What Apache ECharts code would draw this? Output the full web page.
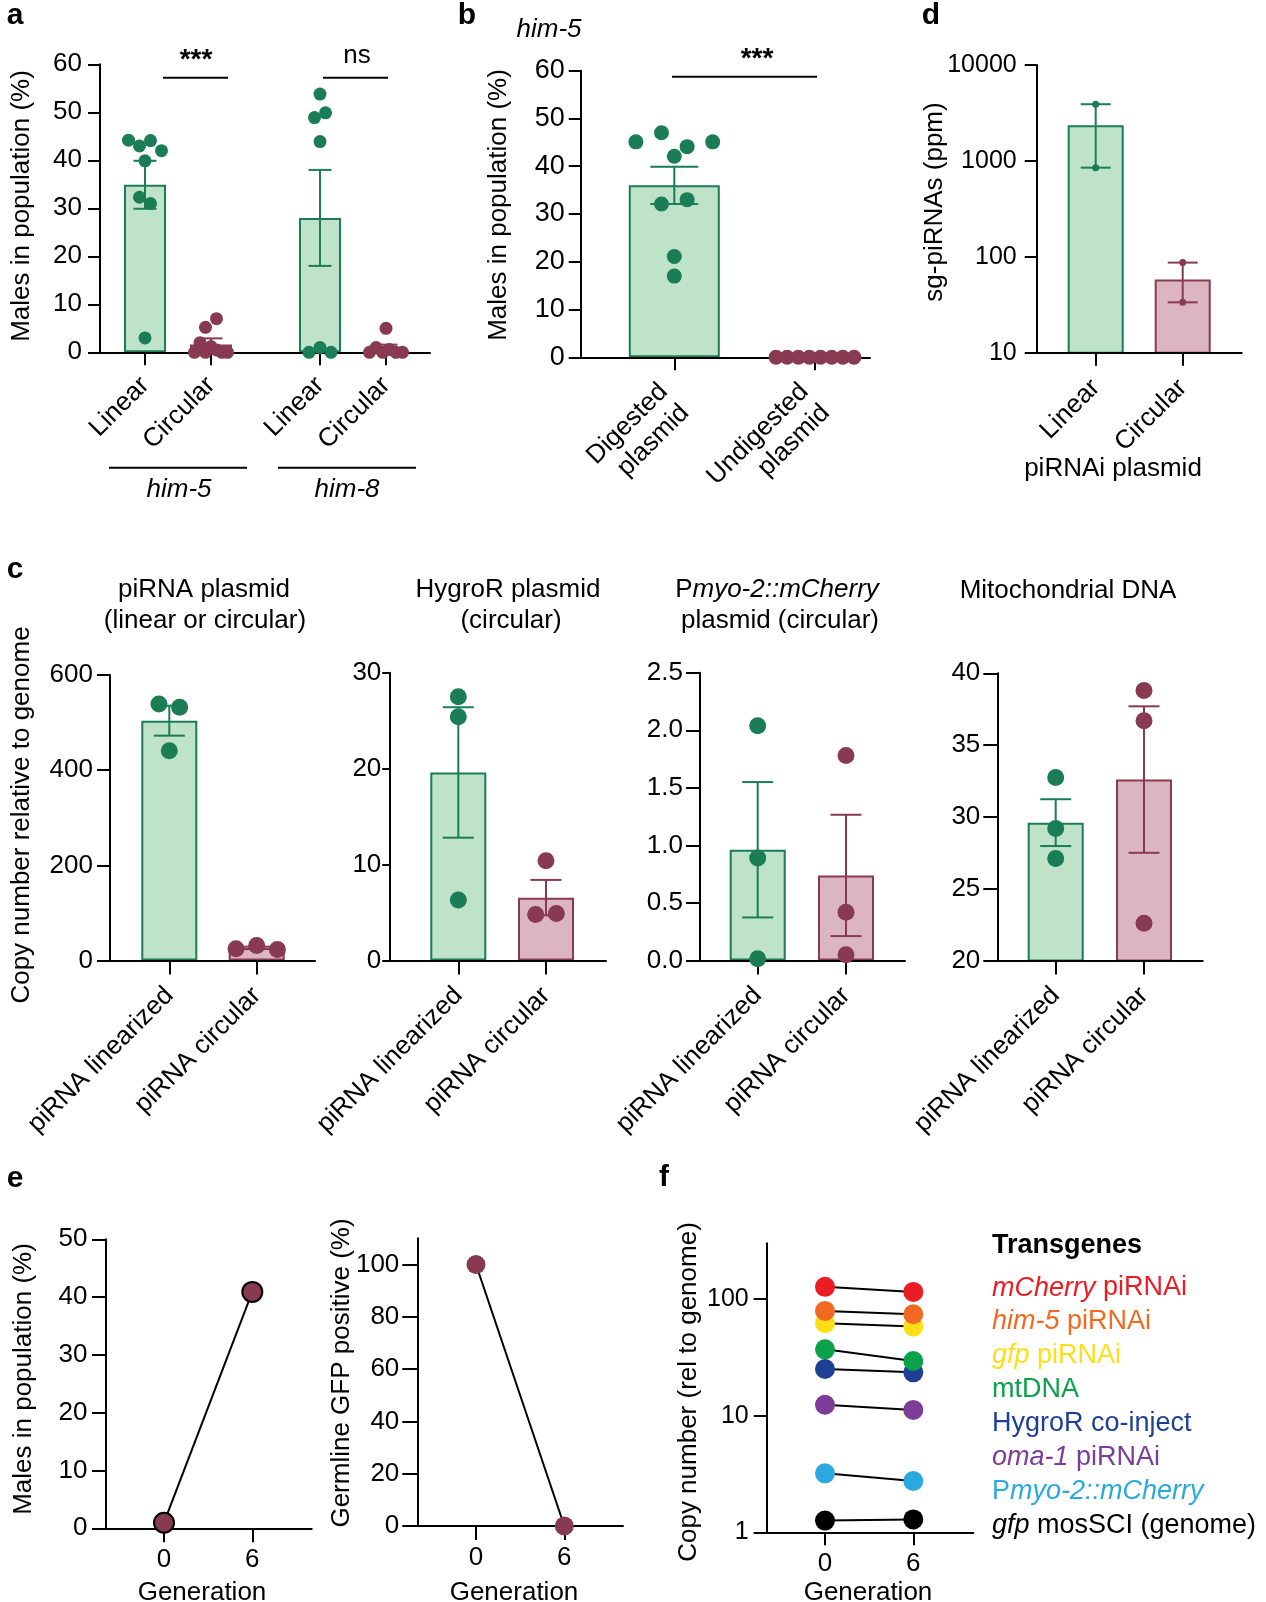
<!DOCTYPE html>
<html>
<head>
<meta charset="utf-8">
<script src="https://cdn.jsdelivr.net/npm/echarts@6/dist/echarts.min.js"></script>
<style>
  html, body { margin: 0; padding: 0; background: #fff; }
  #fig { width: 1266px; height: 1602px; }
</style>
</head>
<body>
<div id="fig"></div>
<script>
// ---------- data ----------
// a: males in population (%), him-5 / him-8, linear vs circular plasmid (points listed left to right)
const aCats = ['Linear', 'Circular'];
const aGenes = ['him-5', 'him-8'];
const aHim5Linear = [44.2, 43.0, 44.1, 42.0, 39.9, 32.3, 31.0, 3.0];
const aHim5Circular = [5.2, 7.0, 0, 2.0, 0, 1.2, 0.5, 0, 0];
const aHim8Linear = [53.8, 48.9, 49.9, 43.9, 0, 1.0, 0];
const aHim8Circular = [5.0, 0, 1.0, 0, 0.6, 0, 0];
const aHim5Mean = [34.9, 1.6];
const aHim5Sem = [5.0, 1.3];
const aHim8Mean = [28.0, 0.9];
const aHim8Sem = [10.0, 0.7];

// b: him-5, digested vs undigested plasmid
const bCats = ['Digested\nplasmid', 'Undigested\nplasmid'];
const bDigested = [45.1, 47.0, 44.1, 45.1, 42.1, 32.1, 33.0, 21.1, 17.0];
const bUndigested = [0, 0, 0, 0, 0, 0, 0, 0];
const bMean = [36.0, 0];
const bSem = [3.9, 0];

// c: copy number relative to genome
const cCats = ['piRNA linearized', 'piRNA circular'];
const cPiLinear = [539, 532, 441];
const cPiCircular = [24.5, 31.5, 23];
const cPiMean = [504, 26.5];
const cPiSem = [31.5, 2.5];
const cHygLinear = [27.5, 25.4, 6.3];
const cHygCircular = [4.8, 10.4, 4.9];
const cHygMean = [19.6, 6.55];
const cHygSem = [6.8, 1.85];
const cMyoLinear = [2.04, 0.89, 0.015];
const cMyoCircular = [1.78, 0.42, 0.05];
const cMyoMean = [0.962, 0.739];
const cMyoSem = [0.588, 0.527];
const cMitoLinear = [32.75, 29.2, 27.1];
const cMitoCircular = [38.8, 36.7, 22.6];
const cMitoMean = [29.6, 32.6];
const cMitoSem = [1.63, 5.1];

// d: sg-piRNAs (ppm), mean with range
const dCats = ['Linear', 'Circular'];
const dLinear = [3900, 850];
const dCircular = [87, 33.5];
const dMean = [2350, 58];
const dLow = [850, 33.5];
const dHigh = [3900, 87];

// e: generations
const eGens = ['0', '6'];
const eMales = [0.97, 40.9];
const eGfp = [100, 0];

// f: copy number of transgenes over generations
const fGens = ['0', '6'];
const fMCherry = [127, 115];
const fHim5 = [79, 74];
const fGfp = [62, 58];
const fMt = [37, 29.4];
const fHygro = [25.1, 23.5];
const fOma1 = [12.4, 11.2];
const fMyo2 = [3.2, 2.75];
const fMos = [1.26, 1.29];

// ---------- styling ----------
const FONT = '"Liberation Sans", Arial, Helvetica, sans-serif';
const EDGES = ['#1a7d55', '#873a51'];
const FILLS = ['#bfe3c8', '#dbb6c0'];
const F_COLORS = ['#ed1c24', '#f26a21', '#ffdd17', '#0ca14b', '#1d3f96', '#7d3c98', '#29a9e0', '#000000'];

const option = {
  animation: false,
  backgroundColor: '#fff',
  grid: [], xAxis: [], yAxis: [], series: [], graphic: []
};

// axis frame: y axis with ticks + full-width x axis line
function addFrame(p) {
  const gi = option.grid.length;
  option.grid.push({left: p.x0, top: p.yTop, width: p.x1 - p.x0, height: p.yBot - p.yTop,
    containLabel: false, outerBoundsMode: 'none'});
  option.xAxis.push({gridIndex: gi, type: 'category', data: [''], position: 'bottom', z: 10,
    axisLine: {onZero: false, lineStyle: {color: '#000', width: 2}},
    axisTick: {show: false}, axisLabel: {show: false}, splitLine: {show: false}});
  const y = {gridIndex: gi, type: p.type || 'value', min: p.min, max: p.max, position: 'left', z: 10,
    axisLine: {show: true, onZero: false, lineStyle: {color: '#000', width: 2}},
    axisTick: {show: true, length: p.tickLen || 12, lineStyle: {color: '#000', width: 2}},
    axisLabel: {color: '#000', fontSize: p.fs, fontFamily: FONT, margin: p.margin,
      formatter: p.fmt || (v => String(Math.round(v * 1000) / 1000))},
    splitLine: {show: false}, minorTick: {show: false}};
  if (p.interval) y.interval = p.interval;
  if (p.ticks) { y.axisLabel.customValues = p.ticks; y.axisTick.customValues = p.ticks; }
  if (p.type === 'log') y.logBase = 10;
  option.yAxis.push(y);
}

// data grid: category bands centred on the tick positions
function addData(p) {
  const band = p.c1 - p.c0;
  const gi = option.grid.length;
  option.grid.push({left: p.c0 - band / 2, top: p.yTop, width: band * p.cats.length, height: p.yBot - p.yTop,
    containLabel: false, outerBoundsMode: 'none'});
  option.xAxis.push({gridIndex: gi, type: 'category', data: p.cats, position: 'bottom', z: 10,
    axisLine: {show: false, onZero: false},
    axisTick: {show: true, alignWithLabel: true, interval: 0, length: p.tickLen || 12, lineStyle: {color: '#000', width: 2}},
    axisLabel: {color: '#000', fontSize: p.fs, fontFamily: FONT, margin: p.margin, rotate: p.rotate || 0,
      interval: 0, lineHeight: p.lineHeight || p.fs},
    splitLine: {show: false}});
  const y = {gridIndex: gi, type: p.type || 'value', min: p.min, max: p.max, show: false};
  if (p.type === 'log') y.logBase = 10;
  option.yAxis.push(y);
  return gi;
}

function addBars(gi, means, barW) {
  option.series.push({type: 'bar', xAxisIndex: gi, yAxisIndex: gi, barWidth: barW, z: 2, silent: true,
    data: means.map((m, i) => ({value: m, itemStyle: {color: FILLS[i], borderColor: EDGES[i], borderWidth: 2}}))});
}

function addErr(gi, lo, hi, capW) {
  const data = [];
  lo.forEach((l, i) => { if (hi[i] > l) data.push([i, l, hi[i]]); });
  option.series.push({type: 'custom', xAxisIndex: gi, yAxisIndex: gi, z: 3, silent: true, clip: false, data,
    renderItem(params, api) {
      const i = api.value(0);
      const a = api.coord([i, api.value(2)]);
      const b = api.coord([i, api.value(1)]);
      const st = {stroke: EDGES[i], lineWidth: 2};
      const x = a[0], h = capW / 2;
      return {type: 'group', children: [
        {type: 'line', shape: {x1: x, y1: a[1], x2: x, y2: b[1]}, style: st},
        {type: 'line', shape: {x1: x - h, y1: a[1], x2: x + h, y2: a[1]}, style: st},
        {type: 'line', shape: {x1: x - h, y1: b[1], x2: x + h, y2: b[1]}, style: st}
      ]};
    }});
}
const minus = (m, s) => m.map((v, i) => v - s[i]);
const plus = (m, s) => m.map((v, i) => v + s[i]);

// GraphPad-like scatter: dots in the same row are spread sideways
function spread(values, pxPerUnit, dot, maxStep, maxWidth) {
  const idx = values.map((v, i) => i).sort((p, q) => values[q] - values[p]);
  const offs = values.map(() => 0);
  let k = 0;
  while (k < idx.length) {
    const top = values[idx[k]];
    const bin = [];
    while (k < idx.length && (top - values[idx[k]]) * pxPerUnit < dot) { bin.push(idx[k]); k++; }
    bin.sort((p, q) => p - q);
    const step = bin.length > 1 ? Math.min(maxStep, maxWidth / (bin.length - 1)) : 0;
    bin.forEach((i, j) => { offs[i] = (j - (bin.length - 1) / 2) * step; });
  }
  return offs;
}

function addDots(gi, cat, values, size, sp) {
  const offs = sp ? spread(values, sp.px, size, sp.step, sp.width) : values.map(() => 0);
  option.series.push({type: 'scatter', xAxisIndex: gi, yAxisIndex: gi, z: 20, silent: true, clip: false,
    symbol: 'circle', symbolSize: size, itemStyle: {color: EDGES[cat], opacity: 1},
    data: values.map((v, k) => ({value: [cat, v], symbolOffset: [offs[k], 0]}))});
}

function addLine(gi, values, color, size, border) {
  option.series.push({type: 'line', xAxisIndex: gi, yAxisIndex: gi, z: 20, silent: true, clip: false,
    data: values, symbol: 'circle', symbolSize: size, showSymbol: true,
    lineStyle: {color: '#000', width: 2},
    itemStyle: {color: color, borderColor: '#000', borderWidth: border, opacity: 1}});
}

function txt(x, y, text, o) {
  o = o || {};
  const el = {type: 'text', x, y, rotation: o.rot || 0, silent: true, z: 50,
    style: {text, fill: o.color || '#000',
      font: (o.italic ? 'italic ' : '') + (o.bold ? 'bold ' : '') + (o.size || 26) + 'px ' + FONT,
      align: o.align || 'center', verticalAlign: 'middle'}};
  if (o.rich) el.style.rich = o.rich;
  option.graphic.push(el);
}
function hline(x1, x2, y) {
  option.graphic.push({type: 'line', silent: true, z: 50, shape: {x1, y1: y, x2, y2: y},
    style: {stroke: '#000', lineWidth: 2}});
}
const rs = (size, italic, color) => ({fontSize: size, fontFamily: FONT, fontStyle: italic ? 'italic' : 'normal', fill: color});
const UP = Math.PI / 2;

// ---------- panel a ----------
addFrame({x0: 100, x1: 430, yTop: 64.3, yBot: 352.3, min: 0, max: 60, interval: 10, fs: 26, margin: 18});
const aSp = {px: 4.8, step: 11, width: 33};
const aG1 = addData({c0: 145, c1: 211, yTop: 64.3, yBot: 352.3, cats: aCats, min: 0, max: 60, fs: 26, margin: 29, rotate: 45, tickLen: 13});
const aG2 = addData({c0: 320, c1: 386, yTop: 64.3, yBot: 352.3, cats: aCats, min: 0, max: 60, fs: 26, margin: 29, rotate: 45, tickLen: 13});
addBars(aG1, aHim5Mean, 42);
addErr(aG1, minus(aHim5Mean, aHim5Sem), plus(aHim5Mean, aHim5Sem), 23);
addDots(aG1, 0, aHim5Linear, 13, aSp);
addDots(aG1, 1, aHim5Circular, 13, aSp);
addBars(aG2, aHim8Mean, 42);
addErr(aG2, minus(aHim8Mean, aHim8Sem), plus(aHim8Mean, aHim8Sem), 23);
addDots(aG2, 0, aHim8Linear, 13, aSp);
addDots(aG2, 1, aHim8Circular, 13, aSp);
txt(15, 16, 'a', {bold: true, size: 30});
txt(22, 206, 'Males in population (%)', {rot: UP});
txt(196, 60, '***', {bold: true, size: 28});
hline(163, 228, 77.7);
txt(357, 56, 'ns', {size: 26});
hline(323, 388, 77.7);
hline(109, 247, 467.7);
txt(179, 490, aGenes[0], {italic: true, size: 26});
hline(278, 416, 467.7);
txt(347, 490, aGenes[1], {italic: true, size: 26});

// ---------- panel b ----------
addFrame({x0: 580.7, x1: 870, yTop: 70.7, yBot: 357.3, min: 0, max: 60, interval: 10, fs: 27, margin: 16});
const bG = addData({c0: 674.3, c1: 815, yTop: 70.7, yBot: 357.3, cats: bCats, min: 0, max: 60, fs: 26, margin: 41,
  rotate: 45, tickLen: 13, lineHeight: 30});
const bSp = {px: 4.78, step: 25.6, width: 78};
addBars(bG, bMean, 91);
addErr(bG, minus(bMean, bSem), plus(bMean, bSem), 48);
addDots(bG, 0, bDigested, 15, bSp);
addDots(bG, 1, bUndigested, 15, bSp);
txt(467, 16, 'b', {bold: true, size: 30});
txt(549, 30, 'him-5', {italic: true, size: 26});
txt(499, 205, 'Males in population (%)', {rot: UP});
txt(757, 59, '***', {bold: true, size: 28});
hline(672, 817, 76.7);

// ---------- panel d ----------
addFrame({x0: 1036.7, x1: 1241.7, yTop: 65, yBot: 352.7, type: 'log', min: 10, max: 10000, ticks: [10, 100, 1000, 10000],
  fs: 25, margin: 20, fmt: v => String(Math.round(v))});
const dG = addData({c0: 1095.7, c1: 1182.7, yTop: 65, yBot: 352.7, cats: dCats, type: 'log', min: 10, max: 10000,
  fs: 26, margin: 31, rotate: 45, tickLen: 13});
addBars(dG, dMean, 56);
addErr(dG, dLow, dHigh, 30);
addDots(dG, 0, dLinear, 7);
addDots(dG, 1, dCircular, 7);
txt(931, 16, 'd', {bold: true, size: 30});
txt(935, 202, 'sg-piRNAs (ppm)', {rot: UP});
txt(1113, 469, 'piRNAi plasmid', {size: 26});

// ---------- panel c ----------
const cPanels = [
  {x0: 110, x1: 315, yTop: 675, c0: 169.3, c1: 256.7, min: 0, max: 600, interval: 200, px: 0.4767, tick: 13, margin: 17,
    lin: cPiLinear, cir: cPiCircular, mean: cPiMean, sem: cPiSem},
  {x0: 389.3, x1: 606, yTop: 672.7, c0: 458.3, c1: 546, min: 0, max: 30, interval: 10, px: 9.58, tick: 7, margin: 8,
    lin: cHygLinear, cir: cHygCircular, mean: cHygMean, sem: cHygSem},
  {x0: 700, x1: 905, yTop: 672.7, c0: 757.7, c1: 846, min: 0, max: 2.5, interval: 0.5, px: 115, tick: 14, margin: 17,
    lin: cMyoLinear, cir: cMyoCircular, mean: cMyoMean, sem: cMyoSem, fmt: v => v.toFixed(1)},
  {x0: 997.3, x1: 1202.7, yTop: 673.3, c0: 1055.7, c1: 1144, min: 20, max: 40, interval: 5, px: 14.33, tick: 14, margin: 17,
    lin: cMitoLinear, cir: cMitoCircular, mean: cMitoMean, sem: cMitoSem}
];
cPanels.forEach(p => {
  const yBot = 960.5;
  addFrame({x0: p.x0, x1: p.x1, yTop: p.yTop, yBot, min: p.min, max: p.max, interval: p.interval, fs: 26,
    margin: p.margin, tickLen: p.tick, fmt: p.fmt});
  const g = addData({c0: p.c0, c1: p.c1, yTop: p.yTop, yBot, cats: cCats, min: p.min, max: p.max, fs: 26, margin: 31,
    rotate: 45, tickLen: 14});
  const sp = {px: p.px, step: 20.7, width: 41.4};
  addBars(g, p.mean, 56);
  addErr(g, minus(p.mean, p.sem), plus(p.mean, p.sem), 31);
  addDots(g, 0, p.lin, 17, sp);
  addDots(g, 1, p.cir, 17, sp);
});
txt(15, 570, 'c', {bold: true, size: 30});
txt(22, 815, 'Copy number relative to genome', {rot: UP});
txt(204, 590, 'piRNA plasmid');
txt(205, 621, '(linear or circular)');
txt(508, 590, 'HygroR plasmid');
txt(511, 621, '(circular)');
txt(777, 590, '{n|P}{i|myo-2::mCherry}', {rich: {n: rs(26, false, '#000'), i: rs(26, true, '#000')}});
txt(780, 621, 'plasmid (circular)');
txt(1068, 591, 'Mitochondrial DNA');

// ---------- panel e ----------
addFrame({x0: 106, x1: 311.7, yTop: 1239.3, yBot: 1528.3, min: 0, max: 50, interval: 10, fs: 26, margin: 18.5, tickLen: 14});
const eG1 = addData({c0: 164, c1: 252.3, yTop: 1239.3, yBot: 1528.3, cats: eGens, min: 0, max: 50, fs: 26, margin: 19, tickLen: 14});
addLine(eG1, eMales, EDGES[1], 20, 2);
addFrame({x0: 417.3, x1: 623, yTop: 1238.3, yBot: 1526, min: 0, max: 110, ticks: [0, 20, 40, 60, 80, 100], fs: 26, margin: 18, tickLen: 15});
const eG2 = addData({c0: 476, c1: 564.3, yTop: 1238.3, yBot: 1526, cats: eGens, min: 0, max: 110, fs: 26, margin: 19, tickLen: 14});
addLine(eG2, eGfp, EDGES[1], 19, 0);
txt(15, 1179, 'e', {bold: true, size: 30});
txt(24, 1379, 'Males in population (%)', {rot: UP});
txt(342, 1373, 'Germline GFP positive (%)', {rot: UP});
txt(202, 1593, 'Generation');
txt(514, 1593, 'Generation');

// ---------- panel f ----------
addFrame({x0: 766.7, x1: 973.3, yTop: 1243.3, yBot: 1532.3, type: 'log', min: 1, max: 300, ticks: [1, 10, 100],
  fs: 25, margin: 18, tickLen: 13, fmt: v => String(Math.round(v))});
const fG = addData({c0: 825, c1: 913.3, yTop: 1243.3, yBot: 1532.3, cats: fGens, type: 'log', min: 1, max: 300,
  fs: 26, margin: 19, tickLen: 13});
const fSeries = [fMCherry, fHim5, fGfp, fMt, fHygro, fOma1, fMyo2, fMos];
for (let k = fSeries.length - 1; k >= 0; k--) addLine(fG, fSeries[k], F_COLORS[k], 20, 0);
txt(664, 1178, 'f', {bold: true, size: 30});
txt(689, 1392, 'Copy number (rel to genome)', {rot: UP});
txt(868, 1593, 'Generation');
txt(992, 1246, 'Transgenes', {bold: true, size: 27, align: 'left'});
const fLegend = [
  '{i0|mCherry} {n0|piRNAi}',
  '{i1|him-5} {n1|piRNAi}',
  '{i2|gfp} {n2|piRNAi}',
  '{n3|mtDNA}',
  '{n4|HygroR co-inject}',
  '{i5|oma-1} {n5|piRNAi}',
  '{n6|P}{i6|myo-2::mCherry}',
  '{i7|gfp} {n7|mosSCI (genome)}'
];
const fRich = {};
F_COLORS.forEach((c, k) => { fRich['i' + k] = rs(27, true, c); fRich['n' + k] = rs(27, false, c); });
fLegend.forEach((t, k) => txt(992, 1288 + 33.9 * k, t, {size: 27, align: 'left', rich: fRich}));

const chart = echarts.init(document.getElementById('fig'), null, {renderer: 'canvas'});
chart.setOption(option);
</script>
</body>
</html>
